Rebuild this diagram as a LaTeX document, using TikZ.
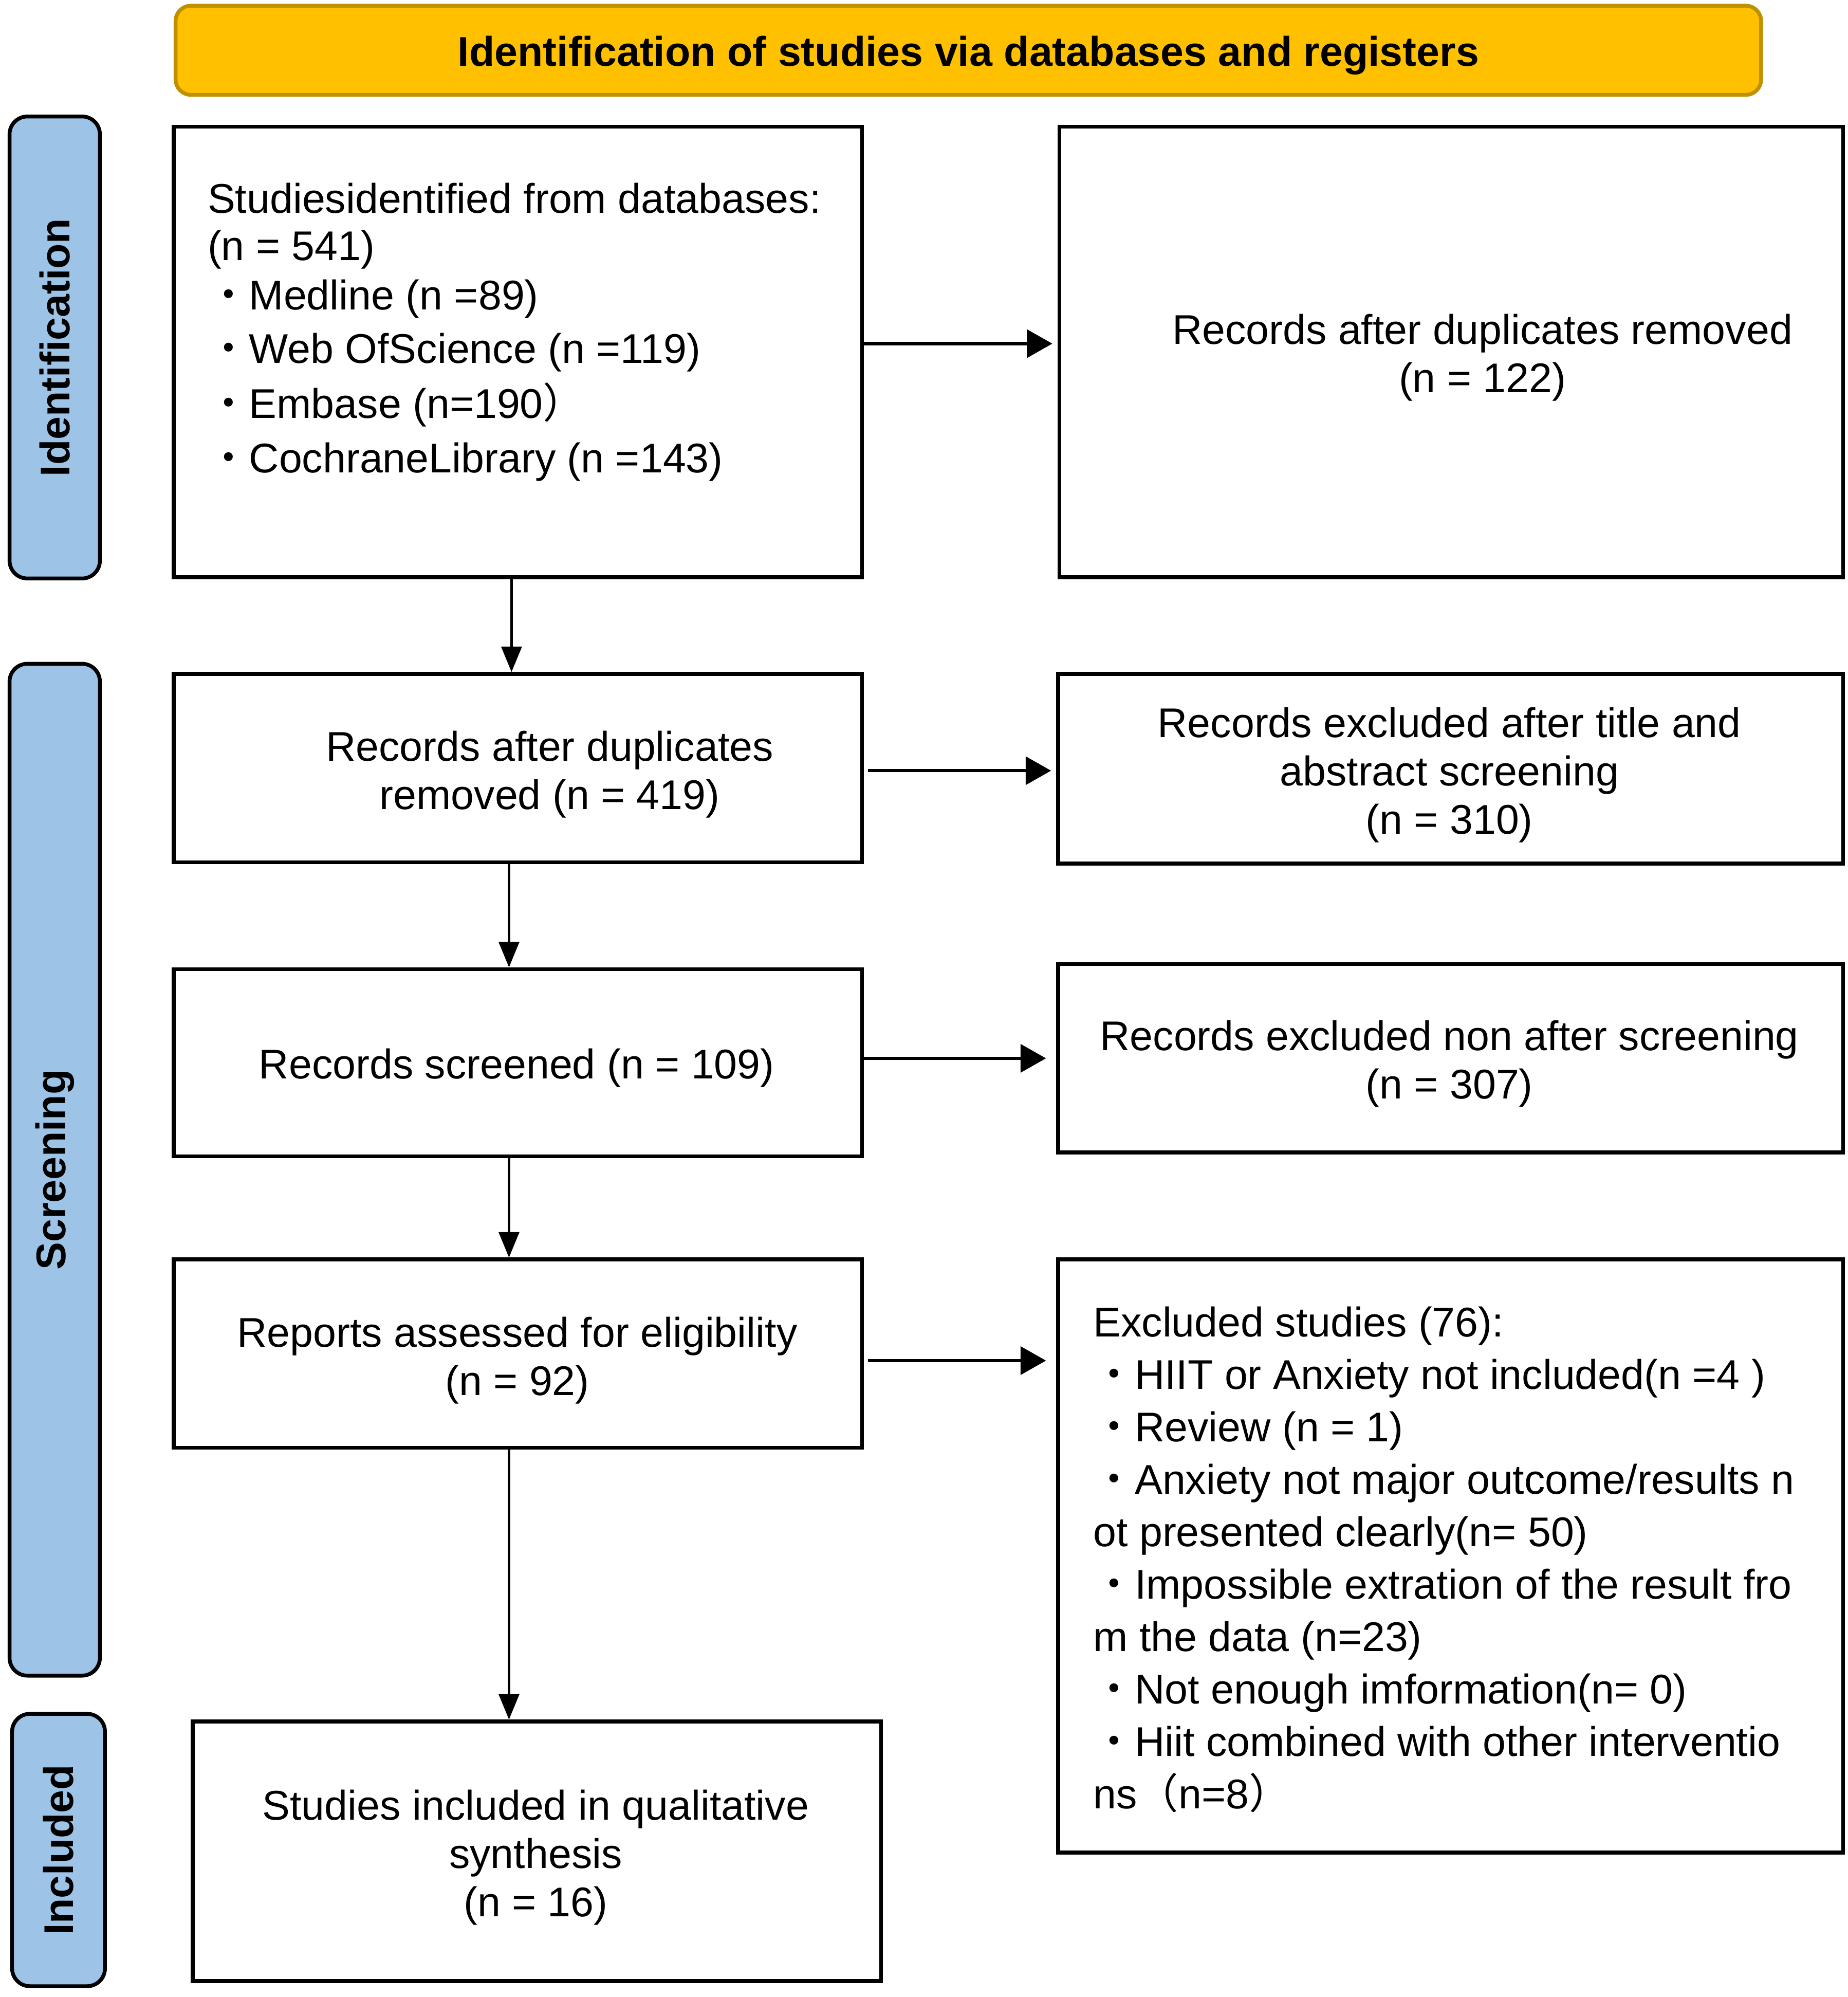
\documentclass[tikz,border=0pt]{standalone}
\usepackage{fontspec}
\setmainfont{Liberation Sans}
\newfontfamily\cjk{Noto Sans CJK JP}
\usetikzlibrary{arrows.meta}
\definecolor{gold}{HTML}{FFC000}
\definecolor{golddark}{HTML}{BF9000}
\definecolor{sideblue}{HTML}{9DC3E6}
\newcommand{\dotb}{{\cjk ・}}
\begin{document}
\begin{tikzpicture}[x=1pt,y=-1pt,
  every node/.style={font=\fontsize{32.6}{38}\selectfont, inner sep=0pt},
  box/.style={draw, line width=3pt, inner sep=0pt},
  txt/.style={align=center, yshift=-4pt},
  side/.style={draw, line width=3pt, fill=sideblue, rounded corners=14pt, rotate=90, font=\fontsize{32.6}{38}\selectfont\bfseries},
  varrow/.style={line width=1.8pt, -{Triangle[length=20pt,width=16pt]}},
  harrow/.style={line width=2.5pt, -{Triangle[length=20pt,width=22pt]}, shorten >=4pt},
]
\useasboundingbox (0,0) rectangle (1452,1569);
\fill[white] (0,0) rectangle (1452,1569);

\node[draw=golddark, fill=gold, line width=3pt, rounded corners=12pt, minimum width=1246pt, minimum height=70pt] (title) at (761,39.5) {};
\node[txt, font=\fontsize{32.6}{38}\selectfont\bfseries] (titlet) at (title.center) {Identification of studies via databases and registers};

\node[side, minimum width=363pt, minimum height=71pt] (sid) at (43,273) {Identification};
\node[side, minimum width=795pt, minimum height=71pt] (sscr) at (43,919) {Screening};
\node[side, minimum width=214pt, minimum height=73pt] (sinc) at (46,1453.5) {Included};

\node[box, minimum width=541pt, minimum height=354pt] (B1) at (407,276.5) {};
\node[box, minimum width=541pt, minimum height=148pt] (B2) at (407,603.5) {};
\node[box, minimum width=541pt, minimum height=147pt] (B3) at (407,835) {};
\node[box, minimum width=541pt, minimum height=148pt] (B4) at (407,1063.5) {};
\node[box, minimum width=541pt, minimum height=204pt] (B5) at (422,1454.5) {};

\node[box, minimum width=616pt, minimum height=354pt] (R1) at (1140.5,276.5) {};
\node[box, minimum width=617pt, minimum height=149pt] (R2) at (1140,604) {};
\node[box, minimum width=617pt, minimum height=148pt] (R3) at (1140,831.5) {};
\node[box, minimum width=617pt, minimum height=466pt] (R4) at (1140,1222.5) {};

\node[txt] (B3t) at (406,835) {Records screened (n = 109)};
\node[txt] (B4t) at (406.5,1065) {Reports assessed for eligibility\\(n = 92)};
\node[txt] (B5t) at (421,1455.5) {Studies included in qualitative\\synthesis\\(n = 16)};
\node[txt] (R2t) at (1139,605) {Records excluded after title and\\abstract screening\\(n = 310)};
\node[txt] (R3t) at (1139,832) {Records excluded non after screening\\(n = 307)};
\node[txt] (B2t) at (432,604.5) {Records after duplicates\\removed (n = 419)};
\node[txt] (R1t) at (1165,277) {Records after duplicates removed\\(n = 122)};

\node[txt, anchor=west, align=left] (B1t) at (163,257) {Studiesidentified from databases:\\[-1pt]
(n = 541)\\[1pt]
\dotb Medline (n =89)\\[4pt]
\dotb Web OfScience (n =119)\\[5pt]
\dotb Embase (n=190{\cjk ）}\\[5pt]
\dotb CochraneLibrary (n =143)};

\node[txt, anchor=west, align=left, font=\fontsize{32.6}{41.2}\selectfont] (R4t) at (859,1221.5) {Excluded studies (76):\\
\dotb HIIT or Anxiety not included(n =4 )\\
\dotb Review (n = 1)\\
\dotb Anxiety not major outcome/results n\\
ot presented clearly(n= 50)\\
\dotb Impossible extration of the result fro\\
m the data (n=23)\\
\dotb Not enough imformation(n= 0)\\
\dotb Hiit combined with other interventio\\
ns{\cjk （}n=8{\cjk ）}};

\draw[harrow] ([yshift=6.5pt]B1.east) -- ([yshift=6.5pt]R1.west);
\draw[harrow, shorten <=3pt] ([yshift=-2pt]B2.east) -- ([yshift=-2pt]B2.east -| R2.west);
\draw[harrow, shorten >=8pt] (B3.east |- R3.west) -- (R3.west);
\draw[harrow, shorten <=3pt, shorten >=8pt] ([yshift=-5.5pt]B4.east) -- ([yshift=-5.5pt]B4.east -| R4.west);

\draw[varrow] ([xshift=-5pt]B1.south) -- ([xshift=-5pt]B2.north);
\draw[varrow] ([xshift=-7pt]B2.south) -- ([xshift=-7pt]B3.north);
\draw[varrow] ([xshift=-7pt]B3.south) -- ([xshift=-7pt]B4.north);
\draw[varrow] ([xshift=-7pt]B4.south) -- ([xshift=-7pt]B4.south |- B5.north);
\end{tikzpicture}
\end{document}
